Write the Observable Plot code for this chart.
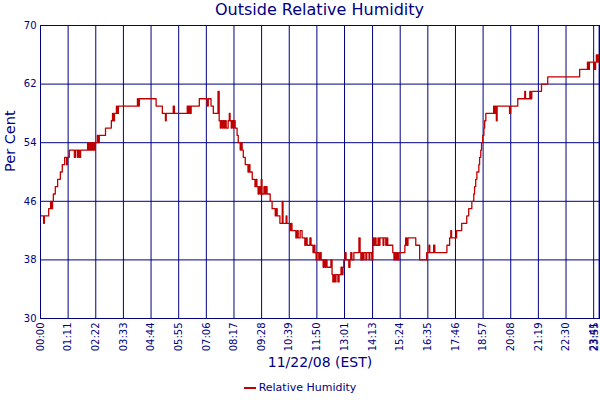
<!DOCTYPE html>
<html>
<head>
<meta charset="utf-8">
<script src="https://cdn.jsdelivr.net/npm/d3@7"></script>
<script src="https://cdn.jsdelivr.net/npm/@observablehq/plot@0.6"></script>
<style>
  html, body { margin: 0; padding: 0; background: #fff; }
  #wrap { width: 600px; height: 400px; position: relative; font-family: "DejaVu Sans", sans-serif; color: #000080; }
  #title { height: 20px; line-height: 20px; text-align: center; font-size: 16px; padding-left: 39px; box-sizing: border-box; }
  #legend { height: 25px; display: flex; align-items: center; justify-content: center; font-size: 11px; }
  #legend .sw { width: 12px; height: 2px; background: #c00000; margin-right: 3px; }
  svg { display: block; }
</style>
</head>
<body>
<div id="wrap">
  <div id="title">Outside Relative Humidity</div>
  <div id="chart"></div>
  <div id="legend"><span class="sw"></span><span>Relative Humidity</span></div>
</div>
<script>
// Minutes since midnight (11/22/08) and relative humidity (%)
const minutes = [0,8,10,21,26,28,31,33,38,44,51,56,62,67,69,74,87,90,95,97,100,103,121,123,126,128,131,133,136,138,141,146,149,151,167,182,185,187,190,195,197,200,249,251,254,297,313,321,323,341,344,377,380,382,385,387,408,428,431,438,444,456,459,462,464,467,469,472,474,477,482,485,487,490,492,495,497,500,505,508,513,515,518,521,526,533,536,538,544,551,554,556,559,561,564,567,569,574,577,579,582,590,595,603,605,608,615,621,623,631,633,641,644,646,656,659,662,667,672,679,682,685,692,695,700,703,705,708,710,715,718,721,726,728,731,733,736,746,749,751,754,756,759,764,767,772,774,777,779,782,785,792,795,797,800,805,818,821,823,826,828,831,836,838,844,846,851,854,856,859,862,867,869,872,880,882,887,890,892,905,908,910,913,915,918,921,936,938,941,944,964,974,992,998,1000,1010,1013,1044,1051,1054,1056,1069,1082,1095,1100,1108,1113,1115,1118,1121,1126,1128,1131,1133,1136,1139,1141,1144,1164,1167,1169,1171,1173,1205,1208,1226,1244,1246,1257,1259,1262,1287,1303,1385,1405,1408,1410,1423,1426,1428,1431,1433,1436];
const humidity = [44,43,44,45,46,45,46,47,48,49,50,51,52,51,52,53,52,53,52,53,52,53,54,53,54,53,54,53,54,53,54,55,54,55,56,57,58,57,58,59,58,59,60,59,60,59,58,57,58,59,58,59,58,59,58,59,60,59,60,59,58,61,57,56,57,56,57,56,57,56,57,58,57,56,57,56,57,56,55,54,53,54,53,52,51,50,51,50,49,48,49,48,47,48,47,49,47,48,47,48,47,46,45,44,45,44,43,46,43,44,43,42,43,42,41,42,41,42,41,40,41,40,41,40,39,40,39,38,39,38,39,38,37,38,37,38,37,38,36,35,36,35,36,35,36,37,36,37,38,39,38,37,38,39,38,39,41,39,38,39,38,39,38,39,38,39,38,41,40,41,40,41,40,41,40,41,40,41,40,39,38,39,38,39,38,39,40,41,40,41,40,38,39,40,39,40,39,40,41,42,41,42,43,44,45,46,47,48,49,50,51,52,53,54,55,56,57,58,59,58,59,57,59,58,59,60,61,60,61,60,61,62,63,64,65,64,65,64,65,66,65,66,66];

const xTickLabels = ["00:00","01:11","02:22","03:33","04:44","05:55","07:06","08:17","09:28","10:39","11:50","13:01","14:13","15:24","16:35","17:46","18:57","20:08","21:19","22:30","23:41","23:55"];
const yTicks = [30, 38, 46, 54, 62, 70];
const xLabel = "11/22/08 (EST)";
const yLabel = "Per Cent";

const toMin = s => { const [h, m] = s.split(":").map(Number); return h * 60 + m; };
const xTicks = xTickLabels.map(toMin);
const labelOf = new Map(xTicks.map((t, i) => [t, xTickLabels[i]]));
const data = minutes.map((t, i) => ({t, v: humidity[i]}));
const lastTick = xTicks[xTicks.length - 1];
const mainTicks = xTicks.slice(0, -1);

const navy = "#000080";
const chart = Plot.plot({
  width: 600,
  height: 355,
  marginTop: 5,
  marginBottom: 57,
  marginLeft: 40,
  marginRight: 1,
  style: {color: navy, fontFamily: "DejaVu Sans, sans-serif", fontSize: "10px", background: "white"},
  x: {domain: [0, 1436]},
  y: {domain: [30, 70]},
  marks: [
    Plot.gridX(xTicks, {stroke: navy, strokeOpacity: 1}),
    Plot.gridY(yTicks, {stroke: navy, strokeOpacity: 1}),
    Plot.line(data, {x: "t", y: "v", curve: "step-after", stroke: "#c00000", strokeWidth: 1.3}),
    Plot.frame({stroke: navy}),
    Plot.axisX(mainTicks, {tickFormat: d => labelOf.get(d), tickRotate: -90, tickSize: 0, tickPadding: 4, label: null, fill: navy}),
    Plot.axisX([lastTick], {tickFormat: d => labelOf.get(d), tickRotate: -90, tickSize: 0, tickPadding: 4, label: null, fill: navy, dx: -4}),
    Plot.axisY(yTicks, {tickSize: 0, tickPadding: 4, label: null, fill: navy}),
    Plot.text([xLabel], {frameAnchor: "bottom", dy: 48, fontSize: 14, fill: navy}),
    Plot.text([yLabel], {frameAnchor: "left", dx: -30, rotate: -90, fontSize: 14.5, fill: navy})
  ]
});
document.getElementById("chart").appendChild(chart);
</script>
</body>
</html>
